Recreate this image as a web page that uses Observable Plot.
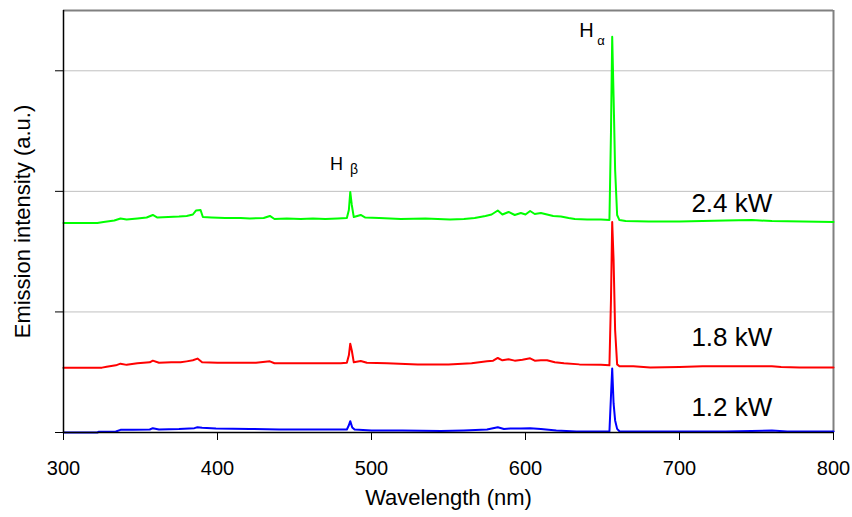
<!DOCTYPE html>
<html>
<head>
<meta charset="utf-8">
<script src="https://cdn.jsdelivr.net/npm/d3@7"></script>
<script src="https://cdn.jsdelivr.net/npm/@observablehq/plot@0.6"></script>
<style>
  html, body { margin: 0; padding: 0; background: #fff; }
  #chart { width: 852px; height: 517px; }
</style>
</head>
<body>
<div id="chart"></div>
<script>
// Wavelength ticks and y gridline positions (arbitrary units)
const xTicks = [300, 400, 500, 600, 700, 800];
const yTicks = [0, 1, 2, 3];

// 2.4 kW spectrum (green)
const wl24 = [300,322,326,333,337,341,348,354,358,361,368,375,380,384,386,389,390.5,396,405,415,421,430,434,437,445,454,462,470,478,484,485.3,486.2,487.2,488.5,493,496,505,519,535,551,560,567,574,578,582,585,589,593,597,600,603,606,610,614,618,623,628,632,640,649,654.5,655.5,656.3,657.2,658.2,659.5,661,665,680,700,715,730,747,760,780,800];
const int24 = [1.737,1.737,1.746,1.758,1.775,1.766,1.775,1.783,1.804,1.783,1.787,1.791,1.796,1.808,1.841,1.845,1.787,1.783,1.779,1.779,1.775,1.779,1.796,1.771,1.775,1.771,1.775,1.771,1.775,1.779,1.845,1.995,1.887,1.787,1.804,1.783,1.779,1.771,1.775,1.766,1.771,1.779,1.796,1.808,1.841,1.808,1.829,1.804,1.820,1.808,1.837,1.812,1.820,1.808,1.796,1.791,1.779,1.771,1.766,1.766,1.762,2.485,3.283,2.785,2.178,1.804,1.762,1.754,1.750,1.750,1.754,1.758,1.762,1.754,1.750,1.746];

// 1.8 kW spectrum (red)
const wl18 = [300,325,328,334,337,341,348,356,358,362,370,376,380,384,387,390,400,415,425,434,437,450,465,480,484,485.3,486.2,487.2,488.5,493,497,510,530,550,565,575,579,582,585,589,593,598,603,606,610,614,619,625,635,649,654.5,655.5,656.3,657.2,658.2,659.5,661,670,681,700,715,727,746,760,766,778,800];
const int18 = [0.536,0.538,0.546,0.557,0.571,0.561,0.574,0.582,0.596,0.578,0.582,0.582,0.590,0.599,0.613,0.582,0.578,0.578,0.578,0.590,0.574,0.574,0.574,0.574,0.578,0.640,0.737,0.680,0.582,0.593,0.578,0.574,0.565,0.565,0.574,0.590,0.596,0.618,0.599,0.607,0.596,0.603,0.615,0.596,0.599,0.599,0.582,0.574,0.565,0.561,0.557,1.097,1.746,1.430,0.848,0.565,0.549,0.549,0.540,0.544,0.549,0.549,0.549,0.549,0.544,0.540,0.540];

// 1.2 kW spectrum (blue)
const wl12 = [300,322,323,334,337,345,356,358,362,375,385,387,390,399,421,440,460,480,484,485.3,486.2,487.5,489,500,520,545,560,575,582,586,590,597,603,610,620,633,654.5,655.5,656.3,657.2,658.2,659.5,661,680,700,730,760,770,800];
const int12 = [0.000,0.000,0.006,0.008,0.022,0.022,0.025,0.036,0.025,0.029,0.036,0.044,0.040,0.033,0.029,0.025,0.025,0.025,0.025,0.060,0.094,0.042,0.025,0.017,0.017,0.012,0.017,0.025,0.044,0.029,0.033,0.033,0.036,0.029,0.017,0.008,0.008,0.300,0.530,0.241,0.100,0.030,0.010,0.008,0.008,0.008,0.017,0.008,0.008];

// Series labels
const seriesNames = ["2.4 kW", "1.8 kW", "1.2 kW"];
const seriesLabelWl = [734, 734, 734];
const seriesLabelInt = [1.895, 0.79, 0.21];

// Line annotations (Hα, Hβ)
const lineMain = ["H", "H"];
const lineSub = ["α", "β"];
const lineMainWl = [639.6, 477.3];
const lineMainInt = [3.333, 2.228];
const lineSubWl = [649.0, 488.6];
const lineSubInt = [3.250, 2.181];

const toRows = (w, v) => w.map((x, i) => ({wl: x, I: v[i]}));
const g = toRows(wl24, int24);
const r = toRows(wl18, int18);
const b = toRows(wl12, int12);
const labels = seriesNames.map((t, i) => ({t, wl: seriesLabelWl[i], I: seriesLabelInt[i]}));
const hA = [{t: lineMain[0], wl: lineMainWl[0], I: lineMainInt[0]}];
const hB = [{t: lineMain[1], wl: lineMainWl[1], I: lineMainInt[1]}];
const sA = [{t: lineSub[0], wl: lineSubWl[0], I: lineSubInt[0]}];
const sB = [{t: lineSub[1], wl: lineSubWl[1], I: lineSubInt[1]}];

const chart = Plot.plot({
  width: 852,
  height: 517,
  marginLeft: 63,
  marginRight: 19,
  marginTop: 10,
  marginBottom: 85,
  style: {fontFamily: "'Liberation Sans', Arial, sans-serif", fontSize: "20px", background: "#fff", color: "#000"},
  x: {domain: [300, 800]},
  y: {domain: [0, 3.5]},
  marks: [
    Plot.ruleY(yTicks.slice(1), {stroke: "#c0c0c0", strokeWidth: 1}),
    Plot.ruleY([3.5], {stroke: "#808080", strokeWidth: 2}),
    Plot.ruleX([800], {stroke: "#808080", strokeWidth: 2}),
    Plot.line(b, {x: "wl", y: "I", stroke: "#0000ff", strokeWidth: 2}),
    Plot.line(r, {x: "wl", y: "I", stroke: "#ff0000", strokeWidth: 2}),
    Plot.line(g, {x: "wl", y: "I", stroke: "#00ff00", strokeWidth: 2}),
    Plot.ruleX([300], {stroke: "#000", strokeWidth: 1.5}),
    Plot.ruleY([0], {stroke: "#000", strokeWidth: 1.5}),
    Plot.axisX({ticks: xTicks, tickSize: 8, tickPadding: 20, fontSize: 20, label: null}),
    Plot.axisY({ticks: yTicks, tickSize: 8, tickFormat: () => "", label: null}),
    Plot.text(["Wavelength (nm)"], {frameAnchor: "bottom", dy: 72, fontSize: 22, textAnchor: "middle"}),
    Plot.text(["Emission intensity (a.u.)"], {frameAnchor: "left", dx: -41, rotate: -90, fontSize: 22, textAnchor: "middle"}),
    Plot.text(labels, {x: "wl", y: "I", text: "t", fontSize: 26}),
    Plot.text(hA, {x: "wl", y: "I", text: "t", fontSize: 20}),
    Plot.text(hB, {x: "wl", y: "I", text: "t", fontSize: 18}),
    Plot.text(sA, {x: "wl", y: "I", text: "t", fontSize: 13}),
    Plot.text(sB, {x: "wl", y: "I", text: "t", fontSize: 14})
  ]
});
document.getElementById("chart").appendChild(chart);
</script>
</body>
</html>
